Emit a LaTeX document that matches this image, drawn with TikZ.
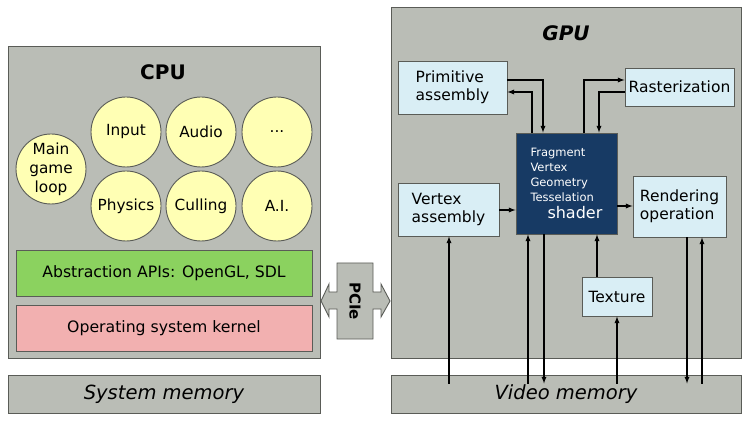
\documentclass[tikz,border=0pt]{standalone}
\usepackage{fontspec}
\setmainfont{DejaVu Sans}
\usepackage{tikz}
\usetikzlibrary{calc,positioning}
\tikzset{>=latex}
\definecolor{panelgray}{HTML}{BABDB6}
\definecolor{edgegray}{HTML}{5A5C57}
\definecolor{unitblue}{HTML}{D9EEF5}
\definecolor{taskyellow}{HTML}{FFFFB4}
\definecolor{apigreen}{HTML}{8BD25F}
\definecolor{kernelpink}{HTML}{F2B0B0}
\definecolor{shaderblue}{HTML}{173A64}
\tikzset{
	panel/.style={draw=edgegray, fill=panelgray, line width=1pt, inner sep=0pt},
	unit/.style={draw=edgegray, fill=unitblue, line width=0.9pt, align=left, inner sep=0pt, font=\fontsize{15.5}{18}\selectfont},
	task/.style={circle, draw=edgegray, fill=taskyellow, line width=0.9pt, minimum size=70pt, inner sep=0pt, align=center, font=\fontsize{15.3}{19}\selectfont},
	layer/.style={draw=edgegray, line width=0.9pt, minimum width=296pt, minimum height=46pt, font=\fontsize{15.7}{18}\selectfont},
	memo/.style={font=\fontsize{19.5}{22}\selectfont\itshape},
	link/.style={->, line width=1.3pt}
}
\begin{document}
\begin{tikzpicture}[x=1pt,y=-1pt]
		\useasboundingbox (0,0) rectangle (750,422);
		% CPU side
		\node[panel, minimum width=312pt, minimum height=311pt] (cpu) at (164,202.5) {};
		\node[font=\fontsize{20}{22}\selectfont\bfseries] (cputitle) at (163,72) {CPU};
		\node[task] (loop) at (51,169) {Main\\game\\loop};
		\node[task] (input) at (126,132) {Input};
		\node[task] (audio) at (201,132) {Audio};
		\node[task] (more) at (277,132) {...};
		\node[task] (physics) at (126,206) {Physics};
		\node[task] (culling) at (201,206) {Culling};
		\node[task] (ai) at (277,206) {A.I.};
		\node[layer, fill=apigreen] (api) at (164,273) {Abstraction APIs: OpenGL, SDL};
		\node[layer, fill=kernelpink] (kernel) at (164,328) {Operating system kernel};
		\node[panel, memo, minimum width=312pt, minimum height=38pt] (sysmem) at (164,394) {System memory};
		% bus
		\draw[draw=edgegray, fill=panelgray, line width=0.9pt] (321,301) -- (329,284) -- (329,292) -- (337,292) -- (337,263) -- (373,263) -- (373,292) -- (381,292) -- (381,284) -- (390,301) -- (381,317) -- (381,309) -- (373,309) -- (373,339) -- (337,339) -- (337,309) -- (329,309) -- (329,317) -- cycle;
		\node[rotate=-90, font=\fontsize{15}{18}\selectfont\bfseries] (pcie) at (355,301) {PCIe};
		% GPU side
		\node[panel, minimum width=350pt, minimum height=350pt] (gpu) at (566,183) {};
		\node[font=\fontsize{20}{22}\selectfont\bfseries\itshape] (gputitle) at (566,33) {GPU};
		\node[panel, memo, minimum width=350pt, minimum height=38pt] (vidmem) at (566,394) {Video memory};
		\node[unit, minimum width=109pt, minimum height=53pt] (prim) at (452.5,87.5) {Primitive\\assembly};
		\node[unit, minimum width=109pt, minimum height=38pt] (raster) at (679.5,87) {Rasterization};
		\node[unit, minimum width=101pt, minimum height=53pt] (vert) at (448.5,209.5) {Vertex\\assembly};
		\node[unit, minimum width=93pt, minimum height=61pt] (render) at (679.5,206.5) {Rendering\\operation};
		\node[unit, minimum width=70pt, minimum height=39pt] (texture) at (617,296.5) {Texture};
		\node[draw=edgegray, fill=shaderblue, text=white, line width=0.9pt, minimum width=101pt, minimum height=101pt, inner sep=0pt] (shader) at (566.5,183.5) {\parbox{72pt}{\fontsize{11.5}{15}\selectfont Fragment\par Vertex\par Geometry\par Tesselation\par\fontsize{16}{17}\selectfont\hspace*{17pt}shader}};
		\coordinate (vmtop) at ([yshift=-9pt]vidmem.north);
		% connectors
		\draw[link] (prim.east |- 0,80) -| (shader.north -| 543,0);
		\draw[link] (shader.north -| 532,0) |- (prim.east |- 0,92);
		\draw[link] (shader.north -| 584,0) |- (raster.west |- 0,80);
		\draw[link] (raster.west |- 0,92) -| (shader.north -| 599,0);
		\draw[link] (vert.east |- 0,210) -- (shader.west |- 0,210);
		\draw[link] (shader.east |- 0,206) -- (render.west |- 0,206);
		\draw[link] (vmtop -| 449,0) -- (vert.south -| 449,0);
		\draw[link] (vmtop -| 528,0) -- (shader.south -| 528,0);
		\draw[link] (shader.south -| 544,0) -- (vmtop -| 544,0);
		\draw[link] (texture.north -| 597,0) -- (shader.south -| 597,0);
		\draw[link] (vmtop -| texture.south) -- (texture.south);
		\draw[link] (render.south -| 687,0) -- (vmtop -| 687,0);
		\draw[link] (vmtop -| 702,0) -- (render.south -| 702,0);
	\end{tikzpicture}
\end{document}
